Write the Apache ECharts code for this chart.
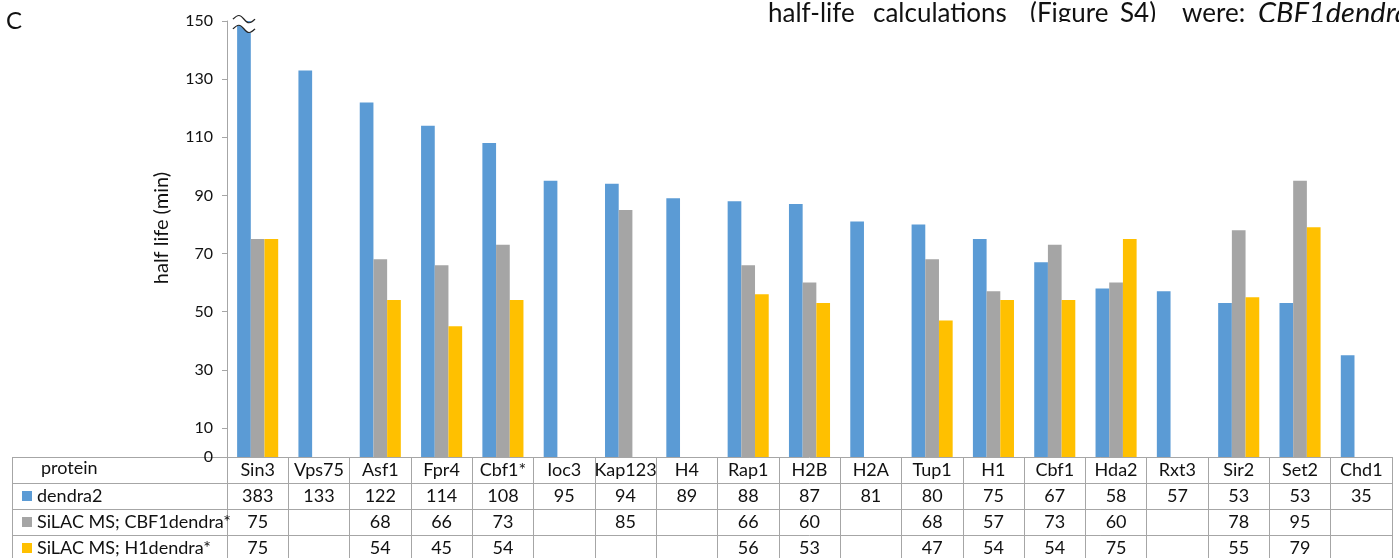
<!DOCTYPE html>
<html>
<head>
<meta charset="utf-8">
<script src="https://cdn.jsdelivr.net/npm/echarts@6/dist/echarts.min.js"></script>
<style>
html,body{margin:0;padding:0;background:#fff;}
#chart{width:1399px;height:558px;}
</style>
</head>
<body>
<div id="chart"></div>
<script>
// ---- data ----
const proteins = ['Sin3','Vps75','Asf1','Fpr4','Cbf1*','Ioc3','Kap123','H4','Rap1','H2B','H2A','Tup1','H1','Cbf1','Hda2','Rxt3','Sir2','Set2','Chd1'];
const dendra2 = [383,133,122,114,108,95,94,89,88,87,81,80,75,67,58,57,53,53,35];
const silacCbf1 = [75,null,68,66,73,null,85,null,66,60,null,68,57,73,60,null,78,95,null];
const silacH1 = [75,null,54,45,54,null,null,null,56,53,null,47,54,54,75,null,55,79,null];
const seriesNames = ['dendra2','SiLAC MS; CBF1dendra*','SiLAC MS; H1dendra*'];
const yTickLabels = [0,10,30,50,70,90,110,130,150];
const yTicks = [10,30,50,70,90,110,130,150];
const yMax = 150;
const yTitle = 'half life (min)';
const captionWords = ['half-life','calculations','(Figure','S4)','were:','CBF1dendra'];

// ---- layout ----
const FONT = 'Lato';
const GRID_LEFT = 227, GRID_RIGHT = 7, GRID_TOP = 21, GRID_BOTTOM = 101;
const H = 558, W = 1399;
const AXIS_Y = H - GRID_BOTTOM;
const ROW = 26;
const TABLE_LEFT = 12;
const LINE = '#A6A6A6';
const TXT = '#111';
const colors = ['#5B9BD5','#A5A5A5','#FFC000'];
const captionX = [768, 873, 1030, 1120, 1182, 1258];
const BREAK_FILL = 'path://M0,3 C5,-2 7,-2 11,3 C15,8 17,8 22,3 L22,13 C17,18 15,18 11,13 C7,8 5,8 0,13 Z';
const BREAK_LINE = 'path://M0,3 C5,-2 7,-2 11,3 C15,8 17,8 22,3 M0,13 C5,8 7,8 11,13 C15,18 17,18 22,13';

const chart = echarts.init(document.getElementById('chart'));

const fmt = arr => (v, i) => (arr[i] == null ? '' : String(arr[i]));

const rowAxis = (k, arr) => ({
  type: 'category',
  data: proteins,
  gridIndex: 0,
  position: 'bottom',
  offset: ROW * k,
  axisLine: { show: true, onZero: false, lineStyle: { color: LINE, width: 1 } },
  axisTick: { show: false },
  axisLabel: {
    interval: 0, margin: ROW / 2, verticalAlign: 'middle',
    fontFamily: FONT, fontSize: 18, color: TXT,
    formatter: fmt(arr)
  },
  splitLine: { show: false }
});

const g = [];
for (let k = 0; k < 4; k++) {
  g.push({
    type: 'line', silent: true,
    shape: { x1: TABLE_LEFT, y1: AXIS_Y + ROW * k + 0.5, x2: GRID_LEFT, y2: AXIS_Y + ROW * k + 0.5 },
    style: { stroke: LINE, lineWidth: 1 }
  });
}
g.push({
  type: 'line', silent: true,
  shape: { x1: TABLE_LEFT + 0.5, y1: AXIS_Y, x2: TABLE_LEFT + 0.5, y2: H },
  style: { stroke: LINE, lineWidth: 1 }
});
g.push({
  type: 'text', left: 41, top: AXIS_Y + ROW / 2 - 11,
  style: { text: 'protein', fontFamily: FONT, fontSize: 18, fill: TXT }
});
g.push({
  type: 'text', left: 6, top: 9,
  style: { text: 'C', fontFamily: FONT, fontSize: 24, fill: TXT }
});
g.push({
  type: 'text', x: 162, y: 228, rotation: Math.PI / 2,
  style: { text: yTitle, fontFamily: FONT, fontSize: 20, fill: TXT, textAlign: 'center', textVerticalAlign: 'middle' }
});
captionWords.forEach((w, i) => {
  const last = i === captionWords.length - 1;
  g.push({
    type: 'text', left: captionX[i], top: last ? -1 : 1,
    style: {
      text: w, fontFamily: FONT, fontSize: last ? 29 : 26, fill: TXT,
      fontStyle: last ? 'italic' : 'normal'
    }
  });
});
g.push({
  type: 'rect', silent: true, z: 100,
  shape: { x: 700, y: 22, width: 699, height: 14 },
  style: { fill: '#fff' }
});

const legendRow = k => ({
  orient: 'vertical', left: 22, top: AXIS_Y + ROW * k + ROW / 2 - 10,
  padding: 0, itemWidth: 10, itemHeight: 10,
  icon: 'rect', data: [seriesNames[k - 1]],
  textStyle: { fontFamily: FONT, fontSize: 18, color: TXT, lineHeight: 20 }
});

const option = {
  backgroundColor: '#fff',
  animation: false,
  color: colors,
  textStyle: { fontFamily: FONT },
  grid: { left: GRID_LEFT, right: GRID_RIGHT, top: GRID_TOP, bottom: GRID_BOTTOM, containLabel: false },
  legend: [legendRow(1), legendRow(2), legendRow(3)],
  xAxis: [
    {
      type: 'category', data: proteins, position: 'bottom',
      axisLine: { show: true, onZero: false, lineStyle: { color: LINE, width: 1 } },
      axisTick: { show: true, interval: 0, alignWithLabel: false, length: ROW * 4, lineStyle: { color: LINE, width: 1 } },
      axisLabel: { interval: 0, margin: ROW / 2, verticalAlign: 'middle', fontFamily: FONT, fontSize: 18, color: TXT },
      splitLine: { show: false }
    },
    rowAxis(1, dendra2),
    rowAxis(2, silacCbf1),
    rowAxis(3, silacH1)
  ],
  yAxis: {
    type: 'value', min: 0, max: yMax, interval: 10,
    axisLine: { show: true, lineStyle: { color: LINE, width: 1 } },
    axisTick: { show: true, length: 5, customValues: yTicks, lineStyle: { color: LINE } },
    axisLabel: { margin: 14, fontFamily: FONT, fontSize: 16, color: TXT, customValues: yTickLabels },
    splitLine: { show: false }
  },
  series: [
    {
      name: seriesNames[0], type: 'bar', data: dendra2, xAxisIndex: 0,
      barGap: '0%', barCategoryGap: '33%', clip: true,
      markPoint: {
        silent: true,
        label: { show: false },
        data: [
          { coord: [proteins[0], yMax], symbol: BREAK_FILL, symbolSize: [22, 17], symbolOffset: [0, 3],
            itemStyle: { color: '#fff', borderWidth: 0 } },
          { coord: [proteins[0], yMax], symbol: BREAK_LINE, symbolSize: [22, 17], symbolOffset: [0, 3],
            itemStyle: { color: 'rgba(0,0,0,0)', borderColor: '#222', borderWidth: 1.2 } }
        ]
      }
    },
    { name: seriesNames[1], type: 'bar', data: silacCbf1, xAxisIndex: 0, barGap: '0%', barCategoryGap: '33%', clip: true },
    { name: seriesNames[2], type: 'bar', data: silacH1, xAxisIndex: 0, barGap: '0%', barCategoryGap: '33%', clip: true }
  ],
  graphic: g
};
chart.setOption(option);
</script>
</body>
</html>
